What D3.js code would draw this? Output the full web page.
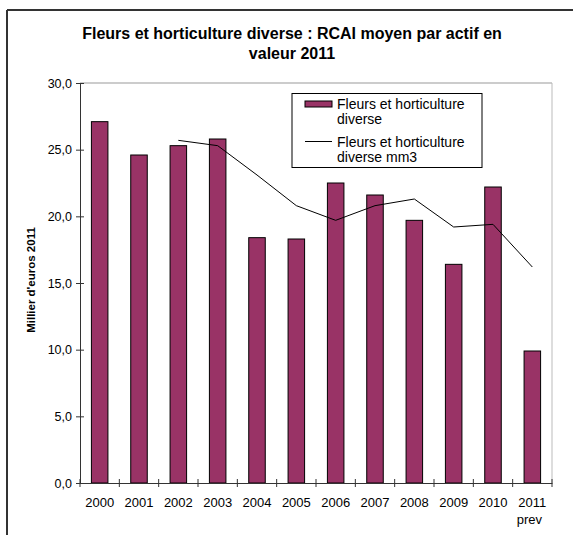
<!DOCTYPE html>
<html><head><meta charset="utf-8">
<script src="https://cdn.jsdelivr.net/npm/d3@7"></script>
<style>body{margin:0;background:#fff}svg{display:block;font-family:"Liberation Sans",Arial,sans-serif}</style>
</head><body><svg id="c" width="573" height="535"></svg>
<script>
const years = ["2000","2001","2002","2003","2004","2005","2006","2007","2008","2009","2010","2011"];
const yearSub = ["","","","","","","","","","","","prev"];
const barValues = [27.1,24.6,25.3,25.8,18.4,18.3,22.5,21.6,19.7,16.4,22.2,9.9];
const mm3Values = [null,null,25.7,25.3,23.1,20.8,19.7,20.8,21.3,19.2,19.4,16.2];
const yTicks = [0,5,10,15,20,25,30];
const seriesNames = ["Fleurs et horticulture|diverse","Fleurs et horticulture|diverse mm3"];

const svg = d3.select("#c");
const L=80,R=552,T=83,B=483;
const x = d3.scaleBand().domain(years).range([L,R]).paddingInner(0.58).paddingOuter(0.29);
const xb = d3.scaleBand().domain(years).range([L,R]);
const y = d3.scaleLinear().domain([0,30]).range([B,T]);
const fmt = d => d.toFixed(1).replace(".",",");
const FF = "Liberation Sans, Arial, sans-serif";

// outer frame
svg.append("line").attr("x1",7).attr("x2",573).attr("y1",10).attr("y2",10).attr("stroke","#333").attr("stroke-width",2);
svg.append("line").attr("x1",7).attr("x2",7).attr("y1",10).attr("y2",535).attr("stroke","#333").attr("stroke-width",2);

// title
const title = svg.append("text").attr("text-anchor","middle").attr("font-weight","bold").attr("font-size",16).attr("fill","#000");
title.append("tspan").attr("x",292).attr("y",39).text("Fleurs et horticulture diverse : RCAI moyen par actif en");
title.append("tspan").attr("x",292).attr("y",59).text("valeur 2011");

// plot border top/right
svg.append("line").attr("x1",L).attr("x2",R).attr("y1",T).attr("y2",T).attr("stroke","#999");
svg.append("line").attr("x1",R).attr("x2",R).attr("y1",T).attr("y2",B).attr("stroke","#bbb");

// bars
svg.append("g").selectAll("rect").data(barValues).join("rect")
  .attr("x",(d,i)=>x(years[i])).attr("width",x.bandwidth())
  .attr("y",d=>y(d)).attr("height",d=>B-y(d))
  .attr("fill","#993366").attr("stroke","#000").attr("stroke-width",1);

// line
const pts = mm3Values.map((v,i)=>[years[i],v]).filter(p=>p[1]!=null);
svg.append("path").datum(pts)
  .attr("d",d3.line().x(p=>xb(p[0])+xb.bandwidth()/2).y(p=>y(p[1])))
  .attr("fill","none").attr("stroke","#000").attr("stroke-width",1);

// y axis
const ya = svg.append("g").attr("transform",`translate(${L},0)`)
  .call(d3.axisLeft(y).tickValues(yTicks).tickFormat(fmt).tickSize(4).tickPadding(5));
ya.select(".domain").attr("stroke","#333");
ya.selectAll(".tick line").attr("x2",4).attr("x1",-4).attr("stroke","#333");
ya.selectAll(".tick text").attr("font-size",12.5).attr("font-family",FF).attr("fill","#000").attr("x",-8);

// x axis
const xa = svg.append("g").attr("transform",`translate(0,${B})`)
  .call(d3.axisBottom(xb).tickSize(0).tickPadding(15));
xa.select(".domain").attr("stroke","#333");
xa.selectAll(".tick text").attr("font-size",13).attr("font-family",FF).attr("fill","#000");
xa.selectAll(".tick").each(function(d,i){
  if(yearSub[i]) d3.select(this).append("text").attr("x",-3).attr("y",32).attr("dy","0.71em").attr("text-anchor","middle")
    .attr("font-size",13).attr("font-family",FF).attr("fill","#000").text(yearSub[i]);
});
// boundary ticks
svg.append("g").selectAll("line").data(d3.range(years.length+1)).join("line")
  .attr("x1",i=>L+i*xb.step()).attr("x2",i=>L+i*xb.step())
  .attr("y1",B-4).attr("y2",B+4).attr("stroke","#333");

// y label
svg.append("text").attr("transform",`translate(35,280) rotate(-90)`)
  .attr("text-anchor","middle").attr("font-weight","bold").attr("font-size",11.5).text("Millier d'euros 2011");

// legend
const lg = svg.append("g");
lg.append("rect").attr("x",292).attr("y",93.5).attr("width",190).attr("height",74).attr("fill","#fff").attr("stroke","#000");
lg.append("rect").attr("x",305).attr("y",101).attr("width",27).attr("height",6).attr("fill","#993366").attr("stroke","#000");
lg.append("line").attr("x1",305).attr("x2",332).attr("y1",141.5).attr("y2",141.5).attr("stroke","#000");
const ly = [104,142];
seriesNames.forEach((n,k)=>{
  const t = lg.append("text").attr("font-size",14).attr("fill","#000");
  n.split("|").forEach((s,j)=>t.append("tspan").attr("x",337).attr("y",ly[k]+4.5+j*15).text(s));
});
</script></body></html>
